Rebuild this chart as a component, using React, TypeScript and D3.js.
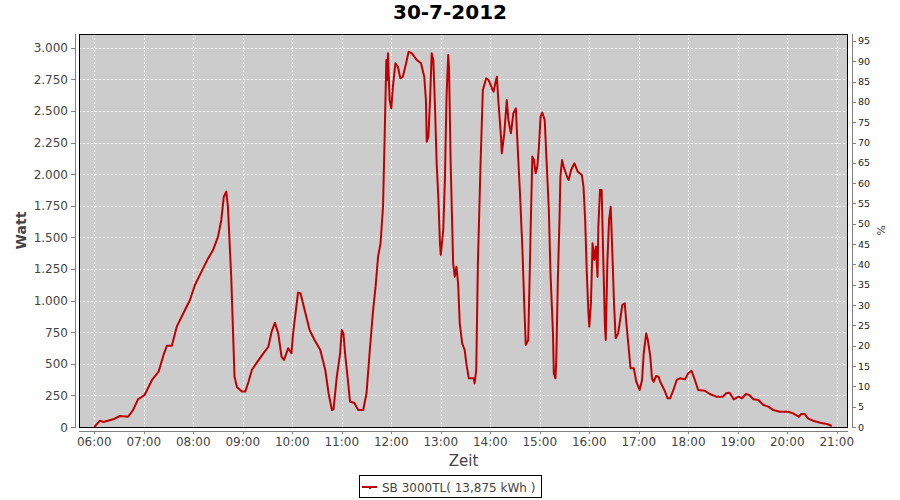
import React from 'react';
import * as d3 from 'd3';

const TITLE = '30-7-2012';
const SERIES_NAME = 'SB 3000TL( 13,875 kWh )';
const Y_LABEL = 'Watt';
const Y2_LABEL = '%';
const X_LABEL = 'Zeit';

const times = [
  '06:00','06:07','06:11','06:23','06:31','06:41','06:47','06:53','07:01','07:10',
  '07:18','07:24','07:28','07:34','07:40','07:48','07:56','08:02','08:10','08:18',
  '08:24','08:30','08:34','08:37','08:40','08:42','08:46','08:48','08:50','08:53',
  '08:59','09:03','09:07','09:11','09:17','09:25','09:31','09:35','09:39','09:43',
  '09:47','09:50','09:55','09:59','10:01','10:07','10:10','10:15','10:21','10:27',
  '10:34','10:40','10:44','10:48','10:50','10:54','10:58','11:00','11:02','11:04',
  '11:07','11:10','11:15','11:20','11:26','11:30','11:34','11:38','11:41','11:44',
  '11:47','11:50','11:52','11:54','11:55','11:56','11:58','12:00','12:02','12:05',
  '12:08','12:11','12:14','12:18','12:21','12:25','12:31','12:36','12:40','12:42',
  '12:43','12:45','12:47','12:49','12:51','12:53','12:55','12:57','12:59','13:00',
  '13:03','13:05','13:07','13:09','13:10','13:12','13:14','13:15','13:17','13:19',
  '13:21','13:23','13:26','13:29','13:31','13:34','13:37','13:40','13:41','13:43',
  '13:45','13:48','13:51','13:55','13:58','14:02','14:04','14:07','14:08','14:10',
  '14:13','14:14','14:17','14:20','14:22','14:25','14:28','14:31','14:33','14:36',
  '14:39','14:41','14:43','14:46','14:48','14:49','14:51','14:53','14:55','14:57',
  '14:59','15:01','15:03','15:06','15:08','15:11','15:13','15:16','15:17','15:19',
  '15:20','15:22','15:24','15:25','15:27','15:29','15:33','15:35','15:38','15:42',
  '15:46','15:51','15:53','15:55','15:57','15:59','16:00','16:02','16:04','16:06',
  '16:08','16:10','16:11','16:13','16:15','16:17','16:19','16:20','16:22','16:24',
  '16:26','16:28','16:30','16:32','16:35','16:38','16:40','16:43','16:45','16:48',
  '16:50','16:54','16:57','17:01','17:04','17:06','17:09','17:11','17:14','17:16',
  '17:18','17:21','17:24','17:26','17:31','17:35','17:38','17:42','17:46','17:50',
  '17:56','18:00','18:04','18:08','18:12','18:20','18:26','18:34','18:42','18:46',
  '18:50','18:55','19:01','19:05','19:10','19:14','19:19','19:25','19:31','19:37',
  '19:43','19:51','20:01','20:07','20:14','20:17','20:21','20:25','20:31','20:40',
  '20:48','20:54'
];

const watts = [
  0, 50, 40, 61, 87, 81, 134, 219, 253, 372,
  438, 570, 643, 643, 794, 900, 1005, 1123, 1229, 1334,
  1400, 1506, 1638, 1822, 1862, 1743, 1189, 794, 398, 314,
  280, 280, 358, 451, 509, 583, 635, 754, 825, 741,
  556, 530, 623, 583, 741, 1063, 1058, 925, 767, 688,
  609, 451, 267, 134, 140, 398, 583, 767, 741, 583,
  398, 200, 192, 134, 134, 267, 609, 925, 1110, 1347,
  1453, 1743, 2297, 2903, 2745, 2956, 2587, 2521, 2692, 2877,
  2850, 2758, 2771, 2877, 2969, 2956, 2903, 2877, 2771, 2587,
  2257, 2297, 2587, 2956, 2903, 2534, 2086, 1822, 1453, 1361,
  1559, 1954, 2613, 2943, 2850, 2086, 1559, 1295, 1189, 1268,
  1137, 820, 662, 609, 504, 385, 385, 385, 346, 451,
  1295, 2033, 2666, 2758, 2745, 2680, 2653, 2745, 2771, 2561,
  2297, 2165, 2323, 2587, 2429, 2323, 2482, 2521, 2244, 1849,
  1400, 1005, 649, 688, 1268, 1585, 2139, 2112, 2007, 2059,
  2218, 2455, 2487, 2429, 2139, 1717, 1216, 741, 425, 385,
  530, 1189, 1664, 1980, 2112, 2059, 1980, 1954, 2033, 2086,
  2020, 1994, 1901, 1638, 1216, 900, 794, 979, 1453, 1321,
  1427, 1189, 1585, 1875, 1875, 1321, 794, 688, 1321, 1638,
  1743, 1374, 979, 702, 741, 873, 965, 979, 820, 609,
  464, 464, 358, 293, 372, 583, 741, 688, 556, 385,
  358, 403, 398, 358, 293, 227, 227, 293, 372, 385,
  377, 425, 445, 372, 293, 287, 261, 240, 240, 267,
  271, 219, 240, 227, 261, 253, 219, 214, 174, 161,
  134, 121, 121, 108, 81, 103, 103, 69, 50, 34,
  24, 8
];

const wattTicks = [0, 250, 500, 750, 1000, 1250, 1500, 1750, 2000, 2250, 2500, 2750, 3000];
const percentTicks = [0, 5, 10, 15, 20, 25, 30, 35, 40, 45, 50, 55, 60, 65, 70, 75, 80, 85, 90, 95];
const hourTicks = ['06:00','07:00','08:00','09:00','10:00','11:00','12:00','13:00','14:00','15:00','16:00','17:00','18:00','19:00','20:00','21:00'];

const X_DOMAIN = ['05:41:30', '21:13:36'];
const Y_MAX = 3109;
const Y2_MAX = 96.7;

const parseT = (s: string) => {
  const p = s.split(':').map(Number);
  return new Date(2012, 6, 30, p[0], p[1], p[2] || 0);
};

const W = 900, H = 500;
const L = 79, R = 848, T = 34, B = 427;
const FONT = '"DejaVu Sans", Verdana, sans-serif';
const RED = '#c00000';
const TXT = '#444444';

export default function App() {
  const x = d3.scaleTime().domain(X_DOMAIN.map(parseT)).range([L, R]);
  const y = d3.scaleLinear().domain([0, Y_MAX]).range([B, T]);
  const y2 = d3.scaleLinear().domain([0, Y2_MAX]).range([B, T]);
  const data = times.map((t, i) => ({ t: parseT(t), v: watts[i] }));
  const line = d3.line<{ t: Date; v: number }>().x(d => x(d.t)).y(d => y(d.v));
  const px = (v: number) => Math.round(v) + 0.5;

  return (
    <svg width={W} height={H} style={{ position: 'absolute', left: 0, top: 0, background: '#ffffff' }} fontFamily={FONT}>
      <rect x={0} y={0} width={W} height={H} fill="#ffffff" />
      <text x={450} y={19} textAnchor="middle" fontSize={20} fontWeight="bold" fill="#000">{TITLE}</text>

      <defs>
        <clipPath id="plotclip"><rect x={L} y={T} width={R - L} height={B - T} /></clipPath>
      </defs>
      <rect x={L} y={T} width={R - L} height={B - T} fill="#cccccc" />
      {hourTicks.map(h => (
        <line key={'gx' + h} x1={px(x(parseT(h)))} x2={px(x(parseT(h)))} y1={T} y2={B} stroke="#fff" strokeWidth={1} strokeDasharray="2,2" />
      ))}
      {wattTicks.map(v => (
        <line key={'gy' + v} x1={L} x2={R} y1={px(y(v))} y2={px(y(v))} stroke="#fff" strokeWidth={1} strokeDasharray="2,2" />
      ))}
      <path d={line(data) || ''} fill="none" stroke={RED} strokeWidth={2} strokeLinejoin="round" clipPath="url(#plotclip)" />
      <rect x={L + 0.5} y={T + 0.5} width={R - L - 1} height={B - T} fill="none" stroke="#000" strokeWidth={1} />

      {/* left axis */}
      <line x1={75.5} x2={75.5} y1={T} y2={B + 1} stroke="#808080" />
      {wattTicks.map(v => (
        <g key={'ly' + v}>
          <line x1={71} x2={75.5} y1={px(y(v))} y2={px(y(v))} stroke="#808080" />
          <text x={68} y={y(v) + 4.5} textAnchor="end" fontSize={12} fill={TXT}>{d3.format(',')(v).replace(/,/g, '.')}</text>
        </g>
      ))}
      <text transform={`translate(26,${(T + B) / 2}) rotate(-90)`} textAnchor="middle" fontSize={14} fontWeight="bold" fill={TXT}>{Y_LABEL}</text>

      {/* right axis */}
      <line x1={852.5} x2={852.5} y1={T} y2={B + 1} stroke="#808080" />
      {percentTicks.map(v => (
        <g key={'ry' + v}>
          <line x1={852.5} x2={856} y1={px(y2(v))} y2={px(y2(v))} stroke="#808080" />
          <text x={858} y={y2(v) + 3.5} textAnchor="start" fontSize={9.5} fill="#222">{v}</text>
        </g>
      ))}
      <text transform={`translate(877,${(T + B) / 2}) rotate(90)`} textAnchor="middle" fontSize={11} fill={TXT}>{Y2_LABEL}</text>

      {/* bottom axis */}
      <line x1={L} x2={R} y1={431.5} y2={431.5} stroke="#808080" />
      {hourTicks.map(h => (
        <g key={'bx' + h}>
          <line x1={px(x(parseT(h)))} x2={px(x(parseT(h)))} y1={431.5} y2={434} stroke="#808080" />
          <text x={x(parseT(h))} y={446} textAnchor="middle" fontSize={12} fill={TXT}>{h}</text>
        </g>
      ))}
      <text x={(L + R) / 2} y={466} textAnchor="middle" fontSize={15} fill={TXT}>{X_LABEL}</text>

      {/* legend */}
      <rect x={359.5} y={475.5} width={182} height={22} fill="#fff" stroke="#000" />
      <line x1={362} x2={377} y1={487} y2={487} stroke={RED} strokeWidth={2} />
      <rect x={369} y={487} width={2} height={2} fill={RED} />
      <text x={382} y={492} fontSize={12} fill={TXT}>{SERIES_NAME}</text>
    </svg>
  );
}
